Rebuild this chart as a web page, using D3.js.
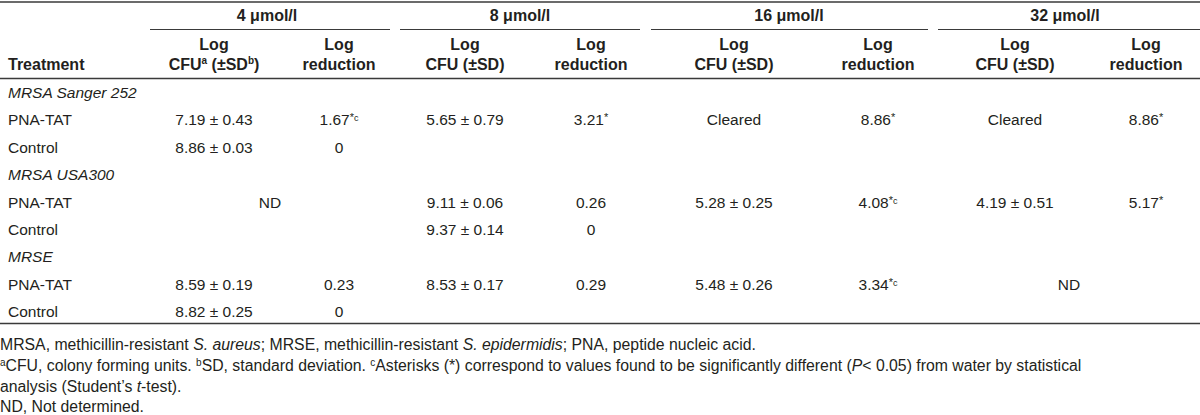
<!DOCTYPE html>
<html>
<head>
<meta charset="utf-8">
<script src="https://cdn.jsdelivr.net/npm/d3@7"></script>
<style>
  body { margin: 0; background: #fff; }
  svg text { font-family: "Liberation Sans", Arial, Helvetica, sans-serif; fill: #231f20; }
</style>
</head>
<body>
<div id="table"></div>
<script>
// Table content
const groups = ["4 μmol/l", "8 μmol/l", "16 μmol/l", "32 μmol/l"];
const strains = ["MRSA Sanger 252", "MRSA USA300", "MRSE"];
const treatments = ["PNA-TAT", "Control"];

// cell strings per row (PNA-TAT, Control for each strain), "*" and "c" marks as superscripts
const cfu4 = ["7.19 ± 0.43", "8.86 ± 0.03", "", "", "8.59 ± 0.19", "8.82 ± 0.25"];
const red4 = ["1.67|*c", "0", "", "", "0.23", "0"];
const cfu8 = ["5.65 ± 0.79", "", "9.11 ± 0.06", "9.37 ± 0.14", "8.53 ± 0.17", ""];
const red8 = ["3.21|*", "", "0.26", "0", "0.29", ""];
const cfu16 = ["Cleared", "", "5.28 ± 0.25", "", "5.48 ± 0.26", ""];
const red16 = ["8.86|*", "", "4.08|*c", "", "3.34|*c", ""];
const cfu32 = ["Cleared", "", "4.19 ± 0.51", "", "", ""];
const red32 = ["8.86|*", "", "5.17|*", "", "", ""];
// cells spanning a whole concentration group: [row, group, text]
const spanCells = [[2, 0, "ND"], [4, 3, "ND"]];

// Constants for layout
const FRAME_WIDTH = 1200;
const FRAME_HEIGHT = 415;
const LEFT = 8;
const COL_X = [214, 339, 465, 591, 734, 878, 1015, 1146];
const GROUP_X = [[150, 390], [400, 640], [651, 928], [938, 1200]];
const GROUP_TEXT_X = [267, 520, 789, 1065];
const HEAD_SIZE = "16px";
const BODY_SIZE = "15.5px";
const NOTE_SIZE = "15.8px";

const FRAME = d3.select("#table")
                .append("svg")
                  .attr("width", FRAME_WIDTH)
                  .attr("height", FRAME_HEIGHT);

// rules
function rule(x1, x2, y, w) {
  FRAME.append("line")
        .attr("x1", x1).attr("x2", x2)
        .attr("y1", y).attr("y2", y)
        .attr("stroke", "#3a3a3a")
        .attr("stroke-width", w);
}
rule(0, FRAME_WIDTH, 2, 1.6);
GROUP_X.forEach(g => rule(g[0], g[1], 29.5, 1.2));
rule(0, FRAME_WIDTH, 78.5, 1.3);
rule(0, FRAME_WIDTH, 323.5, 1.3);

// Header
FRAME.selectAll(".grp")
      .data(groups)
      .enter()
      .append("text")
        .attr("x", (d, i) => GROUP_TEXT_X[i])
        .attr("y", 21)
        .attr("text-anchor", "middle")
        .attr("font-weight", "bold")
        .attr("font-size", HEAD_SIZE)
        .text(d => d);

FRAME.append("text")
      .attr("x", LEFT).attr("y", 70)
      .attr("font-weight", "bold")
      .attr("font-size", HEAD_SIZE)
      .text("Treatment");

const subTop = COL_X.map(() => "Log");
const subBottom = COL_X.map((x, i) => i % 2 == 0 ? "CFU (±SD)" : "reduction");

COL_X.forEach((x, i) => {
  FRAME.append("text")
        .attr("x", x).attr("y", 50)
        .attr("text-anchor", "middle")
        .attr("font-weight", "bold")
        .attr("font-size", HEAD_SIZE)
        .text(subTop[i]);
  const t = FRAME.append("text")
        .attr("x", x).attr("y", 70)
        .attr("text-anchor", "middle")
        .attr("font-weight", "bold")
        .attr("font-size", HEAD_SIZE);
  if (i == 0) {
    t.append("tspan").text("CFU");
    t.append("tspan").attr("font-size", "10px").attr("dy", -6).text("a");
    t.append("tspan").attr("dy", 6).text(" (±SD");
    t.append("tspan").attr("font-size", "10px").attr("dy", -6).text("b");
    t.append("tspan").attr("dy", 6).text(")");
  } else {
    t.text(subBottom[i]);
  }
});

// Body
const Y_ROW = d3.scaleLinear().domain([0, 8]).range([93, 312]);

// row labels: strain (italic) followed by its two treatments
const rowLabels = [];
strains.forEach(s => {
  rowLabels.push({text: s, italic: true});
  treatments.forEach(t => rowLabels.push({text: t, italic: false}));
});

FRAME.selectAll(".rowlab")
      .data(rowLabels)
      .enter()
      .append("text")
        .attr("x", LEFT)
        .attr("y", (d, i) => Y_ROW(i) + 5)
        .attr("font-size", BODY_SIZE)
        .attr("font-style", d => d.italic ? "italic" : "normal")
        .text(d => d.text);

// data row index -> table row index (skip strain rows)
const dataRowToY = r => Y_ROW(Math.floor(r / 2) * 3 + 1 + (r % 2));

const columns = [cfu4, red4, cfu8, red8, cfu16, red16, cfu32, red32];
columns.forEach((col, ci) => {
  col.forEach((v, r) => {
    if (v === "") return;
    const parts = v.split("|");
    const t = FRAME.append("text")
          .attr("x", COL_X[ci])
          .attr("y", dataRowToY(r) + 5)
          .attr("text-anchor", "middle")
          .attr("font-size", BODY_SIZE);
    t.append("tspan").text(parts[0]);
    if (parts[1]) {
      const mark = parts[1];
      t.append("tspan").attr("font-size", "11px").attr("dy", -4).text("*");
      if (mark.length > 1) t.append("tspan").attr("font-size", "9px").text(mark.slice(1));
    }
  });
});

spanCells.forEach(c => {
  FRAME.append("text")
        .attr("x", (GROUP_X[c[1]][0] + GROUP_X[c[1]][1]) / 2)
        .attr("y", dataRowToY(c[0]) + 5)
        .attr("text-anchor", "middle")
        .attr("font-size", BODY_SIZE)
        .text(c[2]);
});

// Footnotes: segments [text, style] where style is "", "i" italic or "s" superscript
const notes = [
  [["MRSA, methicillin-resistant ", ""], ["S. aureus", "i"], ["; MRSE, methicillin-resistant ", ""], ["S. epidermidis", "i"], ["; PNA, peptide nucleic acid.", ""]],
  [["a", "s"], ["CFU, colony forming units. ", ""], ["b", "s"], ["SD, standard deviation. ", ""], ["c", "s"], ["Asterisks (*) correspond to values found to be significantly different (", ""], ["P", "i"], ["< 0.05) from water by statistical", ""]],
  [["analysis (Student\u2019s ", ""], ["t", "i"], ["-test).", ""]],
  [["ND, Not determined.", ""]]
];
const NOTE_Y = [350, 371, 392, 412];

notes.forEach((segs, li) => {
  const t = FRAME.append("text")
        .attr("x", 0)
        .attr("y", NOTE_Y[li])
        .attr("font-size", NOTE_SIZE);
  let up = false;
  segs.forEach(s => {
    const sp = t.append("tspan").text(s[0]);
    if (s[1] == "i") sp.attr("font-style", "italic");
    if (s[1] == "s") { sp.attr("font-size", "10px").attr("dy", -5); up = true; }
    else if (up) { sp.attr("dy", 5); up = false; }
  });
});
</script>
</body>
</html>
